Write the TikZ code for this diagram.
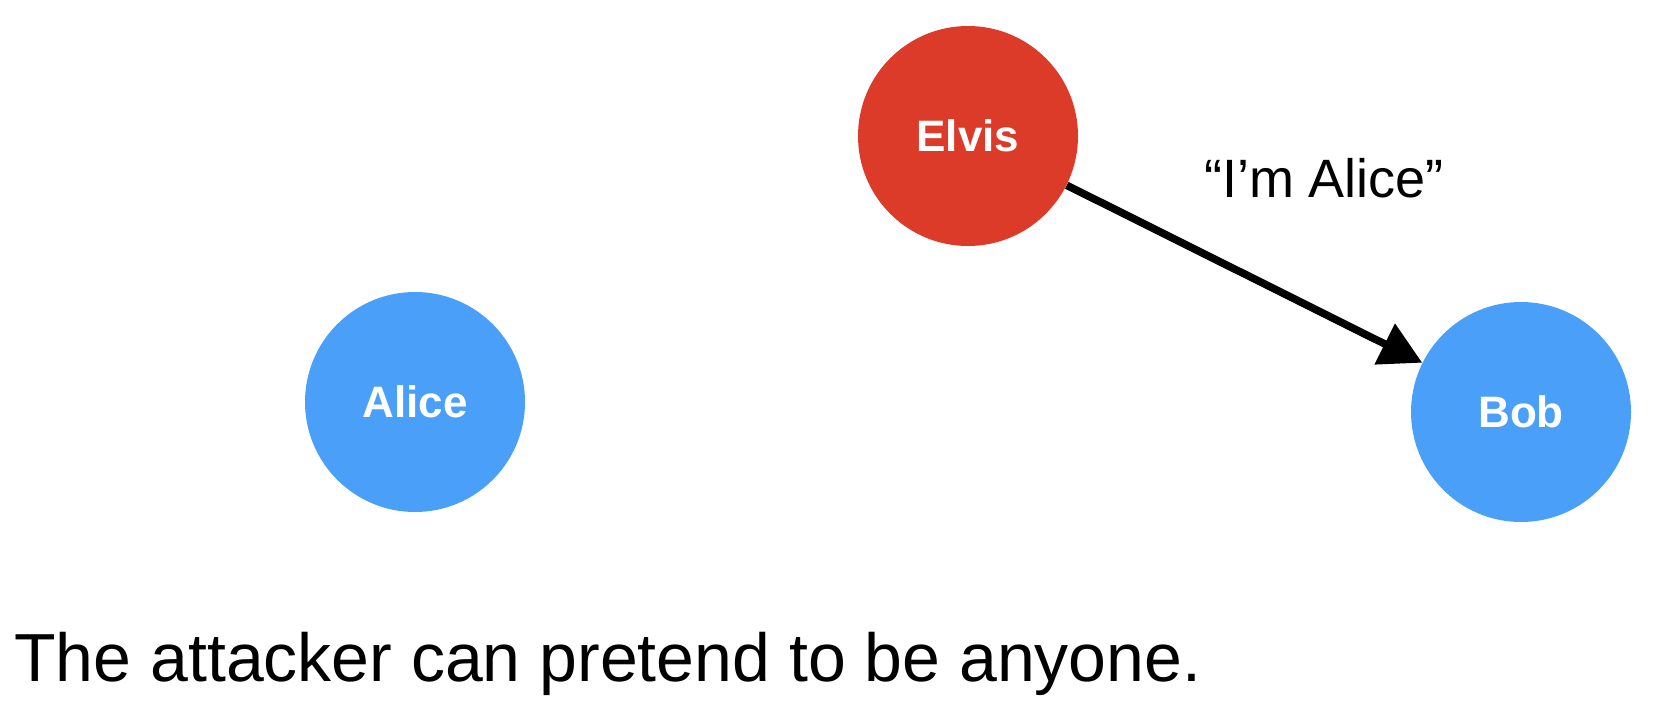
\documentclass[tikz,border=0pt]{standalone}
\usepackage{fontspec}
\setmainfont{Liberation Sans}
\usepackage{tikz}
\usetikzlibrary{arrows.meta, positioning, quotes}
\definecolor{alicebob}{HTML}{4AA0F8}
\definecolor{elvisred}{HTML}{DB3B28}

\begin{document}
\begin{tikzpicture}[x=0.5pt, y=-0.5pt]

\tikzset{vertex/.style = {shape=circle, fill=alicebob, minimum size=110pt, inner sep=0pt, text=white, font=\fontsize{22}{26}\selectfont\bfseries}}
\tikzset{every edge/.style = {draw, line width=3.8pt, -{Triangle[length=21pt, width=22pt]}}}
\useasboundingbox (0,0) rectangle (1668,712);
% vertices
\node[vertex] (alice) at (415,402) {Alice};
\node[vertex, fill=elvisred] (elvis) at (968,136) {Elvis};
\node[vertex] (bob) at (1521,412) {Bob};

%edges
\path (elvis) edge (bob);
\node[font=\fontsize{27}{32}\selectfont] (claim) at (1324,178) {“I’m Alice”};

% caption
\node[anchor=base west, inner sep=0pt, font=\fontsize{34}{40}\selectfont] (caption) at (14,681) {The attacker can pretend to be anyone.};
\end{tikzpicture}
\end{document}
